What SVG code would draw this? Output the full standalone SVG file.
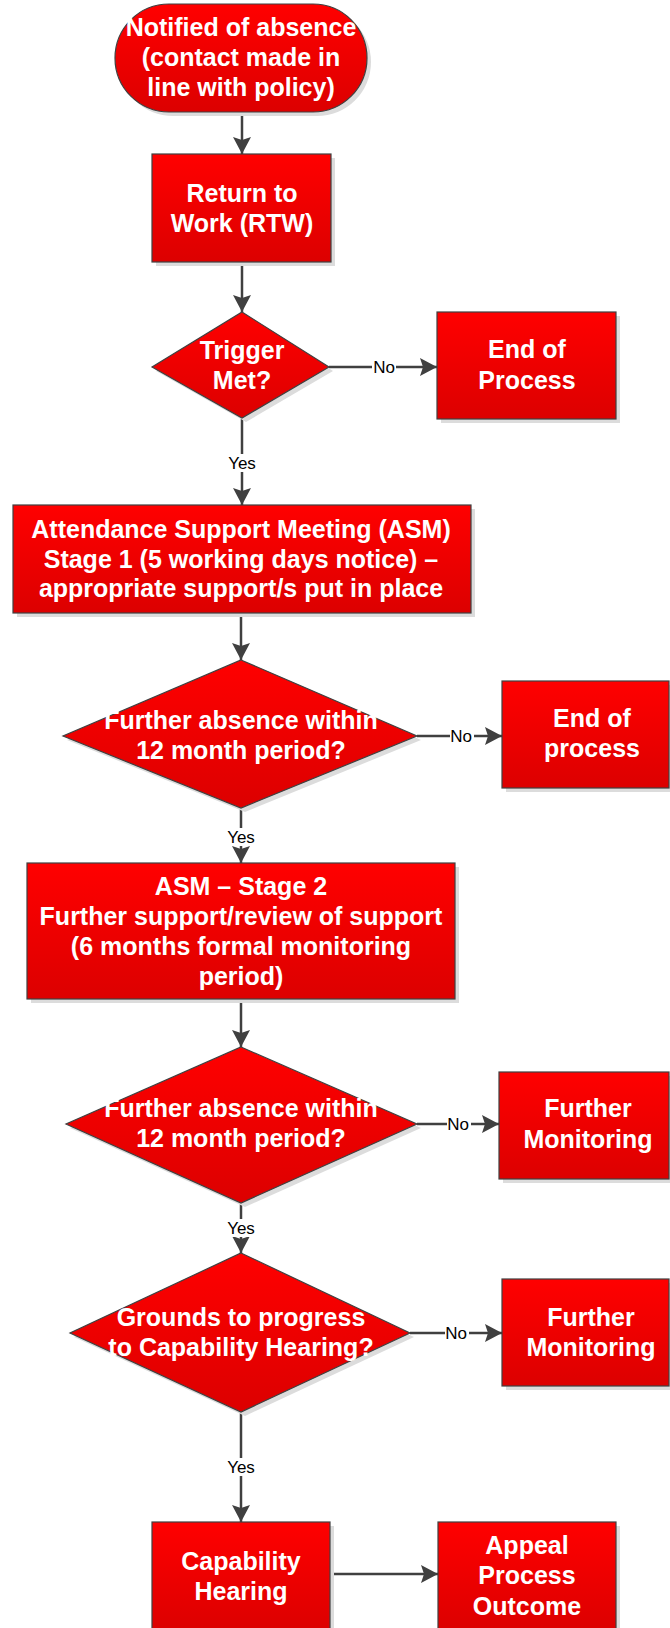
<svg xmlns="http://www.w3.org/2000/svg" width="670" height="1628" viewBox="0 0 670 1628">
<defs>
<linearGradient id="red" x1="0" y1="0" x2="0" y2="1">
<stop offset="0" stop-color="#ff0000"/>
<stop offset="1" stop-color="#dc0000"/>
</linearGradient>
<marker id="arr" markerUnits="userSpaceOnUse" markerWidth="18" markerHeight="18" refX="17" refY="9" orient="auto" viewBox="0 0 18 18">
<path d="M0,0 L17,9 L0,18 L3,9 z" fill="#404040"/>
</marker>
</defs>
<style>
.shape{fill:url(#red);stroke:#404040;stroke-width:1.2}
.shadow{fill:#dcdcdc;stroke:none}
.t{font-family:"Liberation Sans",Arial,sans-serif;font-weight:bold;font-size:25px;fill:#ffffff;text-anchor:middle}
.ca{stroke:#404040;stroke-width:2.5;fill:none;marker-end:url(#arr)}
.lbl{font-family:"Liberation Sans",Arial,sans-serif;font-size:17px;fill:#000000;text-anchor:middle}
.lb{fill:#ffffff}
</style>
<rect width="670" height="1628" fill="#ffffff"/>

<g id="connectors">
<line class="ca" x1="242" y1="112" x2="242" y2="154"/>
<line class="ca" x1="242" y1="262" x2="242" y2="312"/>
<line class="ca" x1="242" y1="418" x2="242" y2="505"/>
<rect class="lb" x="226" y="454" width="32" height="18"/>
<text class="lbl" x="242" y="469">Yes</text>
<line class="ca" x1="329" y1="367" x2="437" y2="367"/>
<rect class="lb" x="372" y="358" width="24" height="18"/>
<text class="lbl" x="384" y="373">No</text>
<line class="ca" x1="241" y1="613" x2="241" y2="660"/>
<line class="ca" x1="417" y1="736" x2="502" y2="736"/>
<rect class="lb" x="450" y="727" width="24" height="18"/>
<text class="lbl" x="461" y="742">No</text>
<line class="ca" x1="241" y1="808" x2="241" y2="863"/>
<rect class="lb" x="225" y="828" width="32" height="18"/>
<text class="lbl" x="241" y="843">Yes</text>
<line class="ca" x1="241" y1="999" x2="241" y2="1047"/>
<line class="ca" x1="417" y1="1124" x2="499" y2="1124"/>
<rect class="lb" x="447" y="1115" width="24" height="18"/>
<text class="lbl" x="458" y="1130">No</text>
<line class="ca" x1="241" y1="1203" x2="241" y2="1253"/>
<rect class="lb" x="225" y="1219" width="32" height="18"/>
<text class="lbl" x="241" y="1234">Yes</text>
<line class="ca" x1="410" y1="1333" x2="502" y2="1333"/>
<rect class="lb" x="445" y="1324" width="24" height="18"/>
<text class="lbl" x="456" y="1339">No</text>
<line class="ca" x1="241" y1="1412" x2="241" y2="1522"/>
<rect class="lb" x="225" y="1458" width="32" height="18"/>
<text class="lbl" x="241" y="1473">Yes</text>
<line class="ca" x1="330" y1="1574" x2="438" y2="1574"/>
</g>

<g id="n-notified">
<rect class="shadow" x="119" y="8" width="252" height="108" rx="54"/>
<rect class="shape" x="115" y="4" width="252" height="108" rx="54"/>
<text class="t" x="241" y="36">Notified of absence</text>
<text class="t" x="241" y="66">(contact made in</text>
<text class="t" x="241" y="96">line with policy)</text>
</g>

<g id="n-rtw">
<rect class="shadow" x="156" y="158" width="179" height="108"/>
<rect class="shape" x="152" y="154" width="179" height="108"/>
<text class="t" x="242" y="202">Return to</text>
<text class="t" x="242" y="232">Work (RTW)</text>
</g>

<g id="n-trigger">
<polygon class="shadow" points="246,316 333,371 246,422 156,371"/>
<polygon class="shape" points="242,312 329,367 242,418 152,367"/>
<text class="t" x="242" y="359">Trigger</text>
<text class="t" x="242" y="389">Met?</text>
</g>

<g id="n-end1">
<rect class="shadow" x="441" y="316" width="179" height="107"/>
<rect class="shape" x="437" y="312" width="179" height="107"/>
<text class="t" x="527" y="358">End of</text>
<text class="t" x="527" y="389">Process</text>
</g>

<g id="n-asm1">
<rect class="shadow" x="17" y="509" width="458" height="108"/>
<rect class="shape" x="13" y="505" width="458" height="108"/>
<text class="t" x="241" y="538">Attendance Support Meeting (ASM)</text>
<text class="t" x="241" y="568">Stage 1 (5 working days notice) –</text>
<text class="t" x="241" y="597">appropriate support/s put in place</text>
</g>

<g id="n-further1">
<polygon class="shadow" points="245,664 421,740 245,812 67,740"/>
<polygon class="shape" points="241,660 417,736 241,808 63,736"/>
<text class="t" x="241" y="729">Further absence within</text>
<text class="t" x="241" y="759">12 month period?</text>
</g>

<g id="n-end2">
<rect class="shadow" x="506" y="685" width="167" height="107"/>
<rect class="shape" x="502" y="681" width="167" height="107"/>
<text class="t" x="592" y="727">End of</text>
<text class="t" x="592" y="757">process</text>
</g>

<g id="n-asm2">
<rect class="shadow" x="31" y="867" width="428" height="136"/>
<rect class="shape" x="27" y="863" width="428" height="136"/>
<text class="t" x="241" y="895">ASM – Stage 2</text>
<text class="t" x="241" y="925">Further support/review of support</text>
<text class="t" x="241" y="955">(6 months formal monitoring</text>
<text class="t" x="241" y="985">period)</text>
</g>

<g id="n-further2">
<polygon class="shadow" points="245,1051 421,1128 245,1207 70,1128"/>
<polygon class="shape" points="241,1047 417,1124 241,1203 66,1124"/>
<text class="t" x="241" y="1117">Further absence within</text>
<text class="t" x="241" y="1147">12 month period?</text>
</g>

<g id="n-monitor1">
<rect class="shadow" x="503" y="1076" width="170" height="107"/>
<rect class="shape" x="499" y="1072" width="170" height="107"/>
<text class="t" x="588" y="1117">Further</text>
<text class="t" x="588" y="1148">Monitoring</text>
</g>

<g id="n-grounds">
<polygon class="shadow" points="245,1257 414,1337 245,1416 74,1337"/>
<polygon class="shape" points="241,1253 410,1333 241,1412 70,1333"/>
<text class="t" x="241" y="1326">Grounds to progress</text>
<text class="t" x="241" y="1356">to Capability Hearing?</text>
</g>

<g id="n-monitor2">
<rect class="shadow" x="506" y="1283" width="167" height="107"/>
<rect class="shape" x="502" y="1279" width="167" height="107"/>
<text class="t" x="591" y="1326">Further</text>
<text class="t" x="591" y="1356">Monitoring</text>
</g>

<g id="n-capability">
<rect class="shadow" x="156" y="1526" width="178" height="108"/>
<rect class="shape" x="152" y="1522" width="178" height="108"/>
<text class="t" x="241" y="1570">Capability</text>
<text class="t" x="241" y="1600">Hearing</text>
</g>

<g id="n-appeal">
<rect class="shadow" x="442" y="1526" width="178" height="108"/>
<rect class="shape" x="438" y="1522" width="178" height="108"/>
<text class="t" x="527" y="1554">Appeal</text>
<text class="t" x="527" y="1584">Process</text>
<text class="t" x="527" y="1615">Outcome</text>
</g>
</svg>
